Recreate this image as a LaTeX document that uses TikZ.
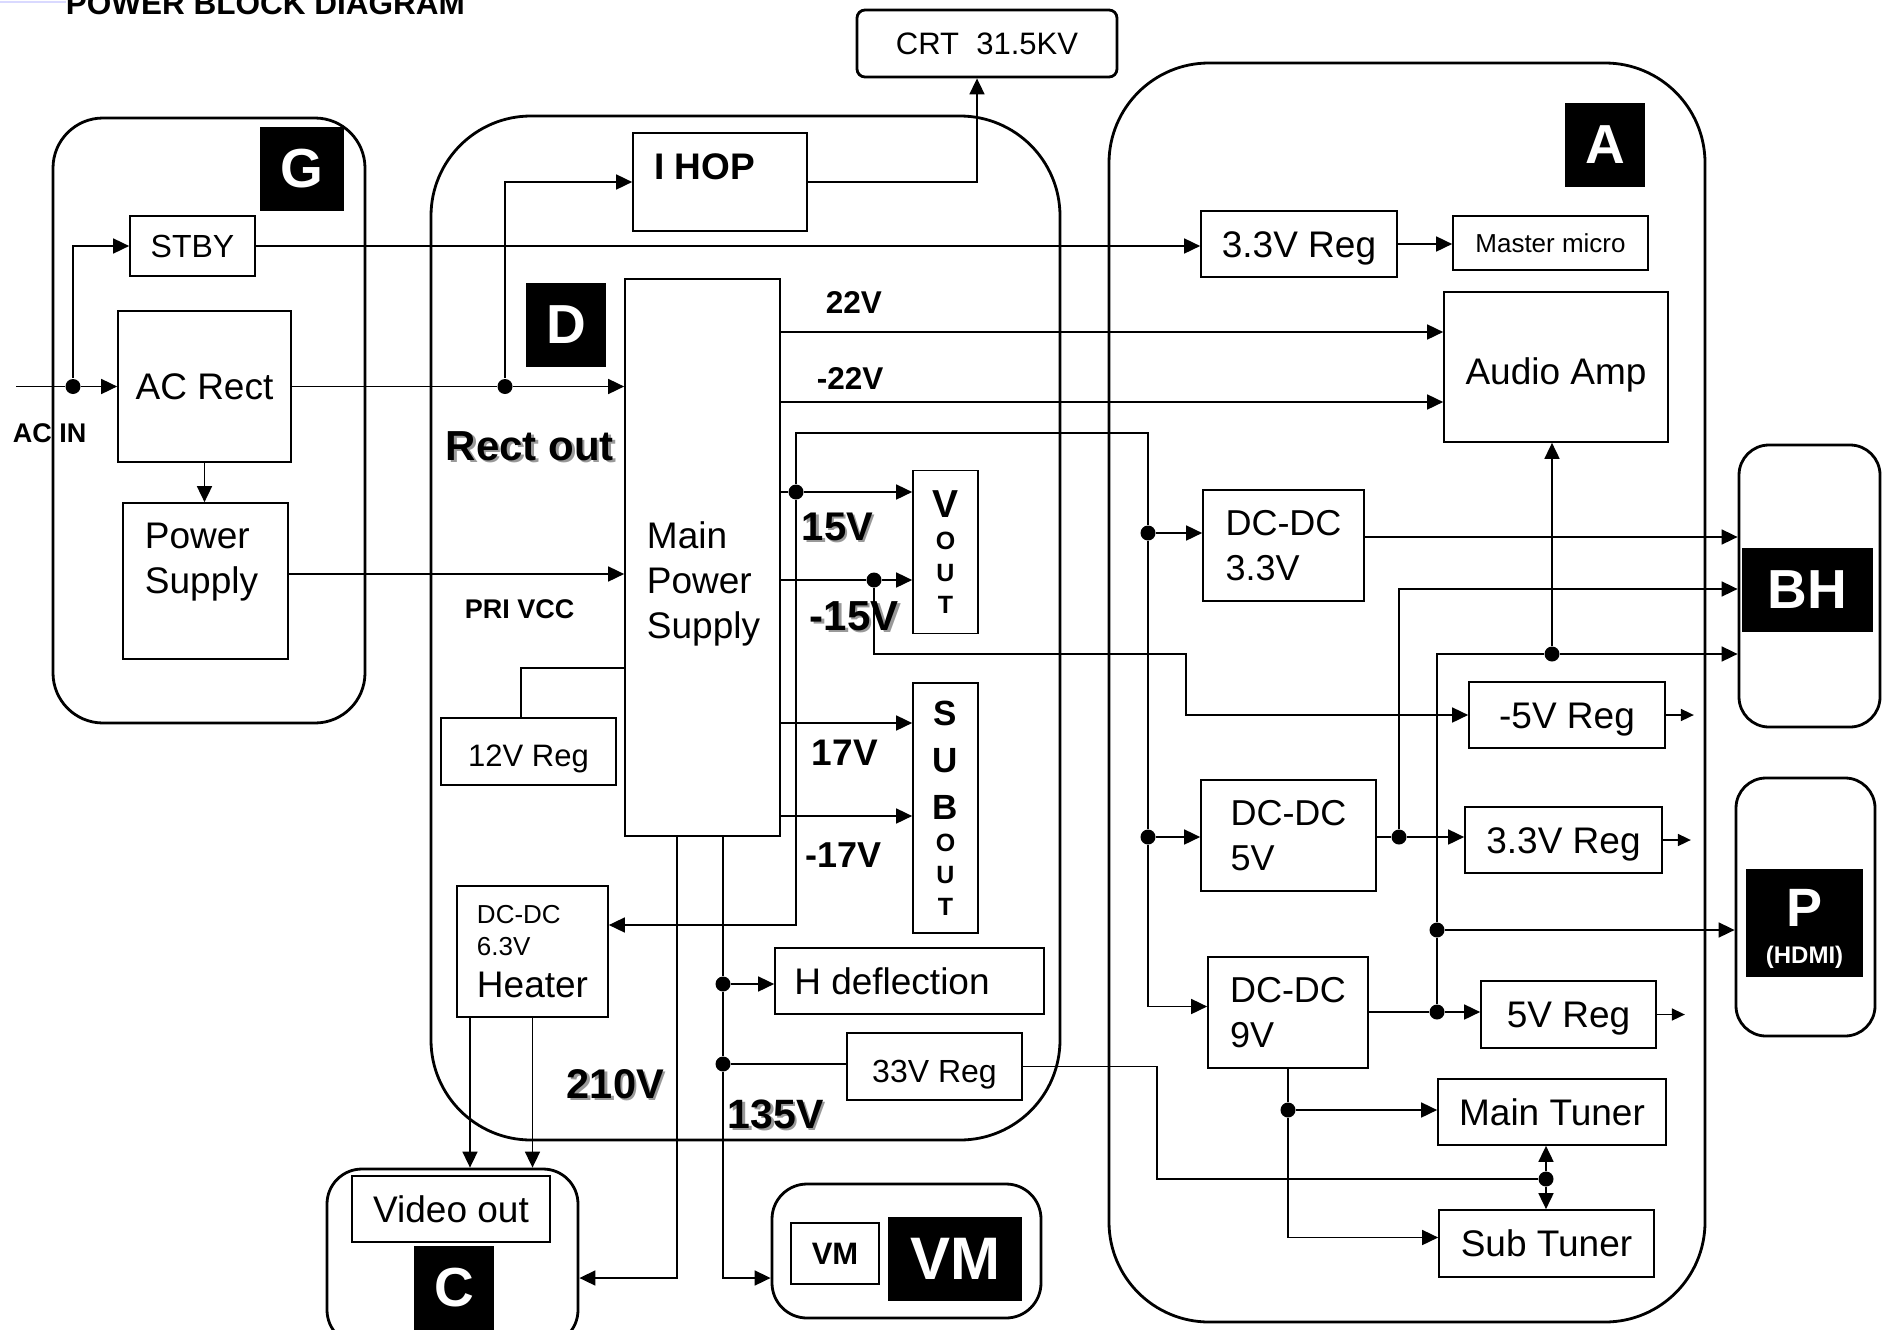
\documentclass[tikz,border=0pt]{standalone}
\usepackage{fontspec}
\setmainfont{Liberation Sans}
\usetikzlibrary{arrows.meta}
\newcommand{\shd}[1]{\rlap{\kern2.5pt\raisebox{-2.5pt}{\textcolor{black!40}{#1}}}#1}
\begin{document}
\begin{tikzpicture}[x=1pt, y=-1pt, line width=1.7pt, >={Triangle[length=16pt,width=15pt]},
  box/.style={draw, line width=1.7pt, inner sep=0pt, align=center, font=\fontsize{37}{45}\selectfont},
  single/.style={text height=#1, text depth=0pt},
  board/.style={draw, line width=2.8pt, inner sep=0pt},
  tag/.style={fill=black, text=white, inner sep=0pt, align=center, font=\bfseries\fontsize{55}{55}\selectfont},
  dot/.style={circle, fill, inner sep=0pt, minimum size=15pt},
  volt/.style={anchor=base west, inner sep=0pt, font=\bfseries\fontsize{31.5}{31.5}\selectfont},
  outarr/.style={-{Triangle[length=13pt,width=12pt]}}]
\useasboundingbox (0,0) rectangle (1887,1330);
\draw[blue!15, line width=1.5pt] (0,2) -- (66,2);
\node[board, rounded corners=50pt, minimum width=312pt, minimum height=605pt] (gb) at (209,420.5) {};
\node[board, rounded corners=100pt, minimum width=629pt, minimum height=1024pt] (db) at (745.5,628) {};
\node[board, rounded corners=100pt, minimum width=596pt, minimum height=1259pt] (ab) at (1407,692.5) {};
\node[board, rounded corners=30pt, minimum width=141pt, minimum height=282pt] (bhb) at (1809.5,586) {};
\node[board, rounded corners=30pt, minimum width=139pt, minimum height=258pt] (pb) at (1805.5,907) {};
\node[board, rounded corners=35pt, minimum width=251pt, minimum height=176pt] (cb) at (452.5,1257) {};
\node[board, rounded corners=35pt, minimum width=269pt, minimum height=134pt] (vmb) at (906.5,1251) {};
\node[tag, minimum width=84pt, minimum height=84pt] (gtag) at (302,169) {G};
\node[tag, minimum width=80pt, minimum height=84pt] (dtag) at (566,325) {D};
\node[tag, minimum width=80pt, minimum height=84pt] (atag) at (1605,145) {A};
\node[tag, minimum width=131pt, minimum height=84pt] (bhtag) at (1807.5,590) {BH};
\node[tag, minimum width=117pt, minimum height=108pt, label={[text=white, align=center, yshift=-6pt, font=\bfseries\fontsize{24}{37}\selectfont]center:{\fontsize{54}{37}\selectfont P}\\(HDMI)}] (ptag) at (1804.5,923) {};
\node[tag, minimum width=80pt, minimum height=84pt] (ctag) at (454,1288) {C};
\node[tag, minimum width=134pt, minimum height=84pt, font=\bfseries\fontsize{60}{60}\selectfont] (vmtag) at (955,1259) {VM};
\node[box, single=22pt, minimum width=260pt, minimum height=67pt, rounded corners=8pt, line width=2.8pt, font=\fontsize{31}{37}\selectfont] (crt) at (987,43.5) {CRT~~31.5KV};
\node[box, single=23pt, minimum width=125pt, minimum height=60pt, font=\fontsize{32}{38}\selectfont] (stby) at (192.5,246) {STBY};
\node[box, single=26.5pt, minimum width=173pt, minimum height=151pt] (acrect) at (204.5,386.5) {AC Rect};
\node[box, minimum width=165pt, minimum height=156pt, label={[align=left, xshift=-4pt, yshift=18.5pt, font=\fontsize{37}{45}\selectfont]center:Power\\Supply}] (psup) at (205.5,581) {};
\node[box, minimum width=174pt, minimum height=98pt, label={[xshift=-15.5pt, yshift=15.5pt, font=\bfseries\fontsize{37}{45}\selectfont]center:I HOP}] (ihop) at (720,182) {};
\node[box, minimum width=155pt, minimum height=557pt, label={[align=left, xshift=1pt, yshift=-26.5pt, font=\fontsize{37}{45}\selectfont]center:Main\\Power\\Supply}] (mps) at (702.5,557.5) {};
\node[box, minimum width=65pt, minimum height=163pt, font=\bfseries\fontsize{25}{32}\selectfont] (vout) at (945.5,552) {{\fontsize{39}{32}\selectfont V}\\O\\U\\T};
\node[box, minimum width=65pt, minimum height=250pt, font=\bfseries\fontsize{25}{32}\selectfont] (subout) at (945.5,808) {{\fontsize{35}{32}\selectfont S}\\[15pt]{\fontsize{35}{32}\selectfont U}\\[15pt]{\fontsize{35}{32}\selectfont B}\\O\\U\\T};
\node[box, single=30pt, minimum width=175pt, minimum height=67pt, font=\fontsize{31}{37}\selectfont] (reg12) at (528.5,751.5) {12V Reg};
\node[box, minimum width=151pt, minimum height=131pt, align=left, font=\fontsize{26}{32}\selectfont] (heater) at (532.5,951.5) {DC-DC\\6.3V\\[10pt]{\fontsize{37}{32}\selectfont Heater}};
\node[box, minimum width=269pt, minimum height=66pt, label={[xshift=-17.5pt, font=\fontsize{37}{45}\selectfont]center:H deflection}] (hdefl) at (909.5,981) {};
\node[box, single=31pt, minimum width=175pt, minimum height=67pt, font=\fontsize{32}{38}\selectfont] (reg33) at (934.5,1066.5) {33V Reg};
\node[box, single=26.5pt, minimum width=198pt, minimum height=66pt] (video) at (451,1209) {Video out};
\node[box, single=22pt, minimum width=88pt, minimum height=61pt, font=\bfseries\fontsize{31}{37}\selectfont] (vmbox) at (835,1253.5) {VM};
\node[box, single=26.5pt, minimum width=196pt, minimum height=66pt] (reg33a) at (1299,244) {3.3V Reg};
\node[box, single=18.6pt, minimum width=195pt, minimum height=54pt, font=\fontsize{26}{31}\selectfont] (micro) at (1550.5,243) {Master micro};
\node[box, single=35pt, minimum width=224pt, minimum height=150pt] (amp) at (1556,367) {Audio Amp};
\node[box, minimum width=161pt, minimum height=111pt, align=left, font=\fontsize{36}{45}\selectfont] (dc33) at (1283.5,545.5) {DC-DC\\3.3V};
\node[box, minimum width=175pt, minimum height=111pt, align=left, font=\fontsize{36}{45}\selectfont] (dc5) at (1288.5,835.5) {DC-DC\\5V};
\node[box, minimum width=160pt, minimum height=111pt, align=left, font=\fontsize{36}{45}\selectfont] (dc9) at (1288,1012.5) {DC-DC\\9V};
\node[box, single=26.5pt, minimum width=196pt, minimum height=66pt] (reg5n) at (1567,715) {-5V Reg};
\node[box, single=26.5pt, minimum width=197pt, minimum height=66pt] (reg33b) at (1563.5,840) {3.3V Reg};
\node[box, single=26.5pt, minimum width=175pt, minimum height=67pt] (reg5) at (1568.5,1014.5) {5V Reg};
\node[box, single=26.5pt, minimum width=228pt, minimum height=66pt] (mtun) at (1552,1112) {Main Tuner};
\node[box, single=26.5pt, minimum width=215pt, minimum height=67pt] (stun) at (1546.5,1243.5) {Sub Tuner};
\node[volt] (title) at (65,15) {POWER BLOCK DIAGRAM};
\node[volt, font=\bfseries\fontsize{27}{27}\selectfont] (acinl) at (12,442) {AC IN};
\node[volt, font=\bfseries\fontsize{42}{42}\selectfont] (rectl) at (445,460) {\shd{Rect out}};
\node[volt, font=\bfseries\fontsize{27}{27}\selectfont] (pril) at (464,618) {PRI VCC};
\node[volt] (v22l) at (825,313) {22V};
\node[volt] (v22nl) at (816,389) {-22V};
\node[volt, font=\bfseries\fontsize{40}{40}\selectfont] (v15l) at (801,540) {\shd{15V}};
\node[volt, font=\bfseries\fontsize{42}{42}\selectfont] (v15nl) at (809,630) {\shd{-15V}};
\node[volt, font=\bfseries\fontsize{37}{37}\selectfont] (v17l) at (811,765) {17V};
\node[volt, font=\bfseries\fontsize{36}{36}\selectfont] (v17nl) at (805,867) {-17V};
\node[volt, font=\bfseries\fontsize{41.5}{41.5}\selectfont] (v210l) at (566,1098) {\shd{210V}};
\node[volt, font=\bfseries\fontsize{41}{41}\selectfont] (v135l) at (727,1128) {\shd{135V}};
\node[dot] (g1) at (73,386.5) {};
\node[dot] (d1) at (505,386.5) {};
\node[dot] (d15) at (796,492) {};
\node[dot] (d15n) at (874,580) {};
\node[dot] (e33) at (1148,533) {};
\node[dot] (e5) at (1148,837) {};
\node[dot] (d135a) at (723,984) {};
\node[dot] (d135b) at (723,1064) {};
\node[dot] (t1) at (1546,1179) {};
\node[dot] (n9) at (1288,1110) {};
\node[dot] (r5) at (1437,1012) {};
\node[dot] (p1) at (1437,930) {};
\node[dot] (a1) at (1552,654) {};
\node[dot] (f5) at (1399,837) {};
\coordinate (acin) at (16,386.5);
\coordinate (o22) at (mps.east |- 0,332);
\coordinate (o22n) at (mps.east |- 0,402);
\coordinate (o15) at (mps.east |- 0,492);
\coordinate (o15n) at (mps.east |- 0,580);
\coordinate (o17) at (mps.east |- 0,723);
\coordinate (o17n) at (mps.east |- 0,816);
\coordinate (o210) at (mps.south -| 677,0);
\coordinate (o135) at (mps.south -| 723,0);
\coordinate (b1) at (796,433);
\coordinate (b2) at (1148,433);
\coordinate (h1) at (796,925);
\coordinate (m1) at (874,654);
\coordinate (m2) at (1186,654);
\coordinate (k210) at (677,1278);
\coordinate (k135) at (723,1278);
\coordinate (w1) at (1437,654);
\coordinate (w2) at (1399,589);
\draw (acin) -- (g1);
\draw[->] (g1) -- (acrect);
\draw[->] (g1) |- (stby.west);
\draw[->] (stby.east) -- (stby.east -| reg33a.west);
\draw[->] (reg33a.east) -- (reg33a.east -| micro.west);
\draw[->] (acrect) -- (acrect |- psup.north);
\draw (acrect) -- (d1);
\draw[->] (d1) -- (d1 -| mps.west);
\draw[->] (d1) |- (ihop.west);
\draw[->] (ihop.east) -| ([xshift=-10pt]crt.south);
\draw[->] ([yshift=7pt]psup.east) -- ([yshift=7pt]psup.east -| mps.west);
\draw ([xshift=-7.5pt]reg12.north) |- (mps.west |- 0,668);
\draw[->] (o22) -- (o22 -| amp.west);
\draw[->] (o22n) -- (o22n -| amp.west);
\draw (o15) -- (d15);
\draw[->] (d15) -- (d15 -| vout.west);
\draw (d15) -- (b1) -- (b2) -- (e33) -- (e5);
\draw[->] (d15) -- (h1) -- (h1 -| heater.east);
\draw (o15n) -- (d15n);
\draw[->] (d15n) -- (d15n -| vout.west);
\draw[->] (d15n) -- (m1) -- (m2) |- (reg5n.west);
\draw[->] (o17) -- (o17 -| subout.west);
\draw[->] (o17n) -- (o17n -| subout.west);
\draw[->] (o210) -- (k210) -- (k210 -| cb.east);
\draw[->] (o135) -- (d135a) -- (d135b) -- (k135) -- (k135 -| vmb.west);
\draw[->] (d135a) -- (d135a -| hdefl.west);
\draw (d135b) -- (d135b -| reg33.west);
\draw[->] (heater.south) -- (heater.south |- cb.north);
\draw[->] ([xshift=-62.5pt]heater.south) -- ([xshift=-62.5pt]heater.south |- cb.north);
\draw (reg33.east) -- ++(134,0) |- (t1);
\draw[->] (t1) -- (t1 |- mtun.south);
\draw[->] (t1) -- (t1 |- stun.north);
\draw[->] (e33) -- (e33 -| dc33.west);
\draw[->] (e5) -- (e5 -| dc5.west);
\draw[->] (e5) |- ([yshift=6pt]dc9.west);
\draw[->] ([yshift=8.5pt]dc33.east) -- ([yshift=8.5pt]dc33.east -| bhb.west);
\draw (dc5.east |- f5) -- (f5);
\draw[->] (f5) -- (f5 -| reg33b.west);
\draw[->] (f5) -- (w2) -- (w2 -| bhb.west);
\draw (dc9.east |- r5) -- (r5);
\draw[->] (r5) -- (r5 -| reg5.west);
\draw (r5) -- (p1) -- (w1) -- (a1);
\draw[->] (p1) -- (p1 -| pb.west);
\draw[->] (a1) -- (a1 -| bhb.west);
\draw[->] (a1) -- (a1 |- amp.south);
\draw (dc9) -- (n9);
\draw[->] (n9) -- (n9 -| mtun.west);
\draw[->] (n9) |- ([yshift=6pt]stun.west);
\draw[outarr] (reg5n.east) -- ++(28,0);
\draw[outarr] (reg33b.east) -- ++(28,0);
\draw[outarr] (reg5.east) -- ++(28,0);
\end{tikzpicture}
\end{document}
